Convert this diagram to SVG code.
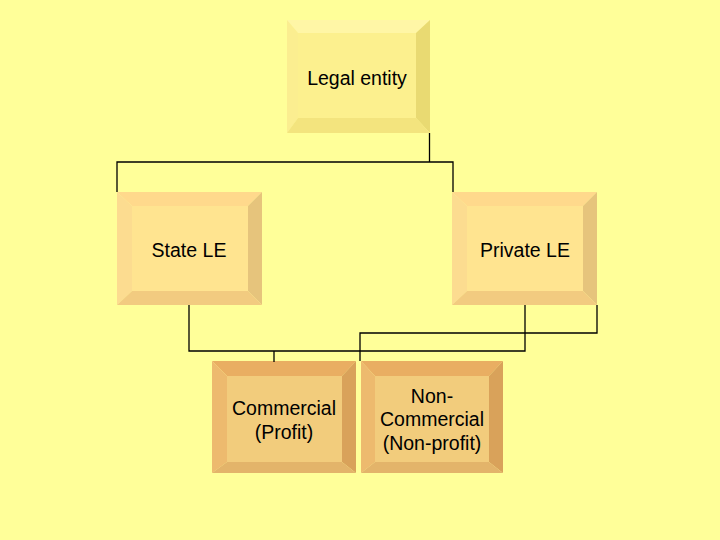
<svg xmlns="http://www.w3.org/2000/svg" width="720" height="540" viewBox="0 0 720 540">
<style>
.t{font-family:"Liberation Sans",Arial,sans-serif;font-size:19.5px;fill:#000;text-anchor:middle}
.c{fill:none;stroke:#000;stroke-width:1.3}
</style>
<rect width="720" height="540" fill="#FFFF99"/>
<g id="legal-entity">
<polygon points="287,20 430,20 416,33 298,33" fill="#FFF6A6"/>
<polygon points="287,20 298,33 298,118 287,133" fill="#FBEE90"/>
<polygon points="430,20 430,133 416,118 416,33" fill="#E9DA72"/>
<polygon points="287,133 430,133 416,118 298,118" fill="#F3E47E"/>
<rect x="298" y="33" width="118" height="85" fill="#FCF08E"/>
<text class="t" x="357" y="85">Legal entity</text>
</g>
<g id="state-le">
<polygon points="117,192 262,192 248,206 132,206" fill="#FFD98C"/>
<polygon points="117,192 132,206 132,291 117,305" fill="#FCDC90"/>
<polygon points="262,192 262,305 248,291 248,206" fill="#E6C47C"/>
<polygon points="117,305 262,305 248,291 132,291" fill="#F2CB80"/>
<rect x="132" y="206" width="116" height="85" fill="#FFE490"/>
<text class="t" x="189" y="257">State LE</text>
</g>
<g id="private-le">
<polygon points="452,192 597,192 583,206 467,206" fill="#FFD98C"/>
<polygon points="452,192 467,206 467,291 452,305" fill="#FCDC90"/>
<polygon points="597,192 597,305 583,291 583,206" fill="#E6C47C"/>
<polygon points="452,305 597,305 583,291 467,291" fill="#F2CB80"/>
<rect x="467" y="206" width="116" height="85" fill="#FFE490"/>
<text class="t" x="525" y="257">Private LE</text>
</g>
<g id="commercial">
<polygon points="212,361 356,361 342,376 227,376" fill="#E9AE62"/>
<polygon points="212,361 227,376 227,462 212,473" fill="#EDBA6E"/>
<polygon points="356,361 356,473 342,462 342,376" fill="#D9A25A"/>
<polygon points="212,473 356,473 342,462 227,462" fill="#E3B46A"/>
<rect x="227" y="376" width="115" height="86" fill="#F2CC7C"/>
<text class="t" x="284" y="415">Commercial</text>
<text class="t" x="284" y="439">(Profit)</text>
</g>
<g id="non-commercial">
<polygon points="361,361 503,361 489,376 375,376" fill="#E9AE62"/>
<polygon points="361,361 375,376 375,462 361,473" fill="#EDBA6E"/>
<polygon points="503,361 503,473 489,462 489,376" fill="#D9A25A"/>
<polygon points="361,473 503,473 489,462 375,462" fill="#E3B46A"/>
<rect x="375" y="376" width="114" height="86" fill="#F2CC7C"/>
<text class="t" x="432" y="403">Non-</text>
<text class="t" x="432" y="426">Commercial</text>
<text class="t" x="432" y="450">(Non-profit)</text>
</g>
<g id="connectors">
<polyline class="c" points="429.5,133 429.5,162"/>
<polyline class="c" points="117,192 117,162 453,162 453,192"/>
<polyline class="c" points="189,305 189,351 525,351 525,305"/>
<polyline class="c" points="597,305 597,333 360,333 360,361"/>
<line class="c" x1="274" y1="351" x2="274" y2="362" stroke-width="2"/>
</g>
</svg>
